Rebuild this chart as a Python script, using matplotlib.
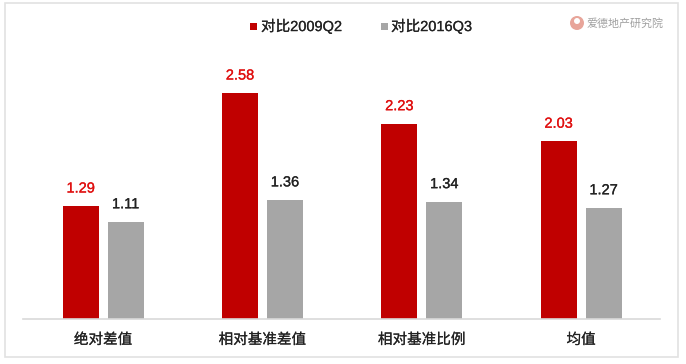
import matplotlib
matplotlib.use('Agg')
import matplotlib.pyplot as plt
import matplotlib.patheffects as pe
from matplotlib.patches import Rectangle, Circle
import numpy as np

plt.rcParams['font.family'] = ['Liberation Sans', 'Noto Sans CJK SC']

categories = ['绝对差值', '相对基准差值', '相对基准比例', '均值']
vals_2009 = [1.29, 2.58, 2.23, 2.03]
vals_2016 = [1.11, 1.36, 1.34, 1.27]

W, H = 686, 364
fig = plt.figure(figsize=(6.86, 3.64), dpi=100)

# plot area in pixels: baseline at y=319, runs from x=23 to x=660
ax = fig.add_axes([23 / W, (H - 319) / H, (660 - 23) / W, 289 / H])
ax.patch.set_alpha(0)

x = np.arange(4)
w = 0.226
off = 0.141
ax.bar(x - off, vals_2009, w, color='#c00000')
ax.bar(x + off, vals_2016, w, color='#a6a6a6')


# the original text is a little heavier than the regular weight
def thicken(t, color, lw=0.2):
    t.set_path_effects([pe.withStroke(linewidth=lw, foreground=color)])


for i in range(4):
    t = ax.text(x[i] - off, vals_2009[i] + 0.12, f'{vals_2009[i]:.2f}', color='#e01010',
                ha='center', va='bottom', fontsize=10.5)
    thicken(t, '#e01010')
    t = ax.text(x[i] + off, vals_2016[i] + 0.12, f'{vals_2016[i]:.2f}', color='#222222',
                ha='center', va='bottom', fontsize=10.5)
    thicken(t, '#222222')

ax.set_xlim(-0.503, 3.495)
ax.set_ylim(0, 3.30)
ax.set_yticks([])
ax.set_xticks(x)
ax.set_xticklabels(categories, fontsize=10.5, color='#222222')
ax.tick_params(axis='x', length=0, pad=10)
for lab in ax.get_xticklabels():
    thicken(lab, '#222222', 0.15)
for s in ['top', 'left', 'right']:
    ax.spines[s].set_visible(False)
ax.spines['bottom'].set_color('#d9d9d9')
ax.spines['bottom'].set_linewidth(1.2)


def px_rect(x0, y0, x1, y1, **kw):
    fig.add_artist(Rectangle((x0 / W, 1 - y1 / H), (x1 - x0) / W, (y1 - y0) / H,
                             transform=fig.transFigure, **kw))


# outer frame of the picture
px_rect(5, 3, 678, 357, fill=False, edgecolor='#e2e2e2', linewidth=1.2)

# legend, drawn by hand so it sits where the original has it
px_rect(250, 23, 257, 30, color='#c00000', linewidth=0)
t = fig.text(261 / W, 1 - 26.5 / H, '对比2009Q2', color='#222222', fontsize=10.5, ha='left', va='center')
thicken(t, '#222222', 0.15)
px_rect(381, 23, 388, 30, color='#a6a6a6', linewidth=0)
t = fig.text(391 / W, 1 - 26.5 / H, '对比2016Q3', color='#222222', fontsize=10.5, ha='left', va='center')
thicken(t, '#222222', 0.15)

# watermark
fig.add_artist(Circle((577, H - 23), 7, transform=None, color='#e8a59a', linewidth=0))
fig.add_artist(Circle((577, H - 21), 3, transform=None, color='white', linewidth=0))
fig.text(587 / W, 1 - 23 / H, '爱德地产研究院', color='#a0a0a0', fontsize=7.9, ha='left', va='center')

fig.savefig('out.png', dpi=100)
